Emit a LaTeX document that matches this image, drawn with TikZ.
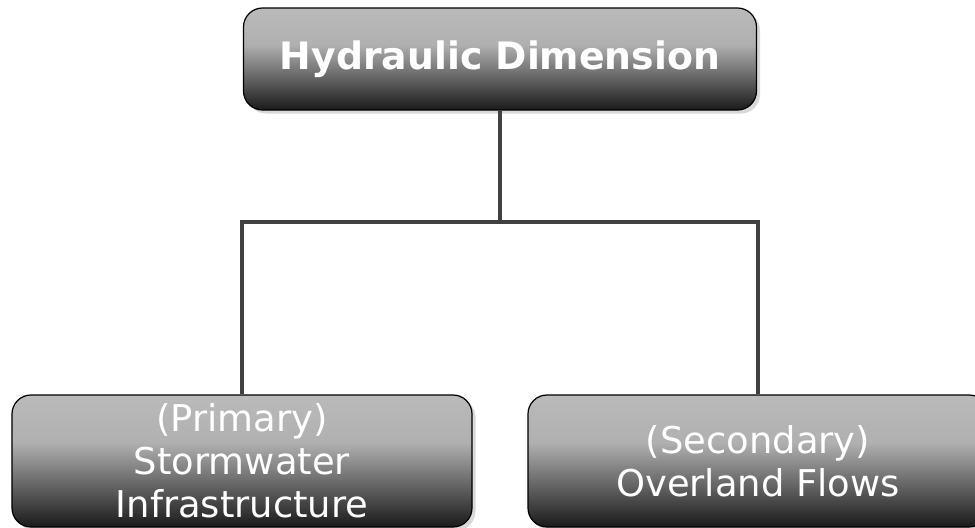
\documentclass[tikz,border=0pt]{standalone}
\usepackage{fontspec}
\setmainfont{DejaVu Sans}
\usetikzlibrary{shadows}
\definecolor{boxtop}{RGB}{186,186,186}
\definecolor{boxmid}{RGB}{176,176,176}
\definecolor{boxbot}{RGB}{26,26,26}
\definecolor{linkgray}{RGB}{64,64,64}
\pgfdeclareverticalshading{dimshade}{100bp}{color(0bp)=(boxbot); color(25bp)=(boxbot);
  color(57bp)=(boxmid); color(75bp)=(boxtop); color(100bp)=(boxtop)}
\tikzset{
  dimbox/.style={draw=black, line width=0.7pt, rounded corners=0.38cm,
    shading=dimshade,
    drop shadow={shadow xshift=2pt, shadow yshift=-2pt, opacity=0.3},
    text=white, align=center, inner sep=0pt},
  subbox/.style={dimbox, minimum width=9.2cm, minimum height=2.64cm},
  link/.style={draw=linkgray, line width=2.8pt, line join=miter}
}
\begin{document}
\begin{tikzpicture}[font=\fontsize{21}{24.4}\selectfont]
	\def\xmax{19.5} \def\ymin{-10.56}
	\useasboundingbox (0,0) rectangle (\xmax,\ymin);
	% boxes
	\node[dimbox, minimum width=10.26cm, minimum height=2.04cm,
		font=\fontsize{21.5}{24.4}\selectfont\bfseries] (hyd) at (10,-1.18) {Hydraulic Dimension};
	\node[subbox] (prim) at (4.84,-9.22) {(Primary)\\Stormwater\\Infrastructure};
	\node[subbox] (sec) at (15.16,-9.22) {(Secondary)\\Overland Flows};
	% connectors
	\coordinate (bus) at (10,-4.44);
	\draw[link] (hyd.south) -- (bus);
	\draw[link] (prim.north) |- (bus) -| (sec.north);
\end{tikzpicture}
\end{document}
